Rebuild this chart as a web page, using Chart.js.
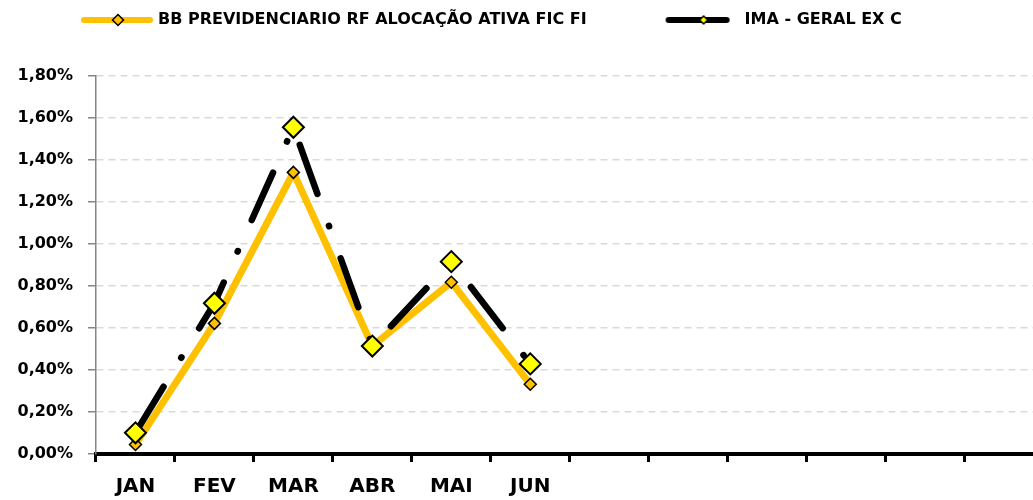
<!DOCTYPE html>
<html>
<head>
<meta charset="utf-8">
<script src="https://cdn.jsdelivr.net/npm/chart.js@4/dist/chart.umd.min.js"></script>
<style>
html, body { margin: 0; padding: 0; background: #fff; overflow: hidden; }
#quadro { width: 1033px; height: 500px; overflow: hidden; }
</style>
</head>
<body>
<div id="quadro"><canvas id="grafico" width="1056" height="500"></canvas></div>
<script>
// dados do grafico (rentabilidade mensal, em %)
const meses = ['JAN', 'FEV', 'MAR', 'ABR', 'MAI', 'JUN', '', '', '', '', '', ''];
const bbPrevidenciario = [0.045, 0.622, 1.341, 0.514, 0.818, 0.332];
const imaGeralExC = [0.101, 0.718, 1.556, 0.514, 0.916, 0.429];
const nomeBB = 'BB PREVIDENCIARIO RF ALOCAÇÃO ATIVA FIC FI';
const nomeIMA = 'IMA - GERAL EX C';
const eixoYMax = 1.8;
const eixoYPasso = 0.2;

const fonte = 'DejaVu Sans';

// icone da legenda: linha grossa com losango no meio
function iconeLegenda(cor, x0, x1, xd, raio, corLosango) {
    const c = document.createElement('canvas');
    c.width = 200;
    c.height = 16;
    const g = c.getContext('2d');
    g.strokeStyle = cor;
    g.lineWidth = 6;
    g.lineCap = 'round';
    g.beginPath();
    g.moveTo(x0 + 3, 8);
    g.lineTo(x1 - 3, 8);
    g.stroke();
    g.beginPath();
    g.moveTo(xd, 8 - raio);
    g.lineTo(xd + raio, 8);
    g.lineTo(xd, 8 + raio);
    g.lineTo(xd - raio, 8);
    g.closePath();
    g.fillStyle = corLosango;
    g.fill();
    g.lineWidth = 1.5;
    g.strokeStyle = '#000';
    g.stroke();
    return c;
}

const iconeBB = iconeLegenda('#FFC000', 100, 172, 137, 5.5, '#FFC000');
const iconeIMA = iconeLegenda('#000', 98, 162, 136, 4, '#FFFF00');

function formataPct(v) {
    return v.toFixed(2).replace('.', ',') + '%';
}

const ctx = document.getElementById('grafico');

new Chart(ctx, {
    type: 'line',
    data: {
        labels: meses,
        datasets: [{
            label: nomeIMA,
            data: imaGeralExC,
            borderColor: '#000',
            borderWidth: 6.5,
            borderDash: [52, 34, 0.5, 34],
            borderDashOffset: 118.6,
            borderCapStyle: 'round',
            borderJoinStyle: 'round',
            tension: 0,
            fill: false,
            pointStyle: 'rectRot',
            pointRadius: 10.5,
            pointBackgroundColor: '#FFFF00',
            pointBorderColor: '#000',
            pointBorderWidth: 2
        }, {
            label: nomeBB,
            data: bbPrevidenciario,
            borderColor: '#FFC000',
            borderWidth: 7,
            borderCapStyle: 'round',
            borderJoinStyle: 'round',
            tension: 0,
            fill: false,
            pointStyle: 'rectRot',
            pointRadius: 6,
            pointBackgroundColor: '#FFC000',
            pointBorderColor: '#000',
            pointBorderWidth: 1.5
        }]
    },
    options: {
        responsive: false,
        animation: false,
        layout: { padding: 0 },
        plugins: {
            tooltip: { enabled: false },
            // titulo vazio so para abrir espaco entre a legenda e o grafico
            title: {
                display: true,
                text: '',
                weight: 0,
                font: { size: 10 },
                padding: { top: 13, bottom: 13 }
            },
            legend: {
                position: 'top',
                align: 'start',
                labels: {
                    usePointStyle: true,
                    pointStyleWidth: 138,
                    padding: 12,
                    color: '#000',
                    font: { family: fonte, size: 16, weight: 'bold' },
                    generateLabels: function (chart) {
                        return [
                            { text: nomeBB, pointStyle: iconeBB, datasetIndex: 1, hidden: !chart.isDatasetVisible(1), lineWidth: 0 },
                            { text: nomeIMA, pointStyle: iconeIMA, datasetIndex: 0, hidden: !chart.isDatasetVisible(0), lineWidth: 0 }
                        ];
                    }
                }
            }
        },
        scales: {
            x: {
                offset: true,
                grid: {
                    offset: true,
                    drawOnChartArea: false,
                    tickLength: 8,
                    tickColor: '#000',
                    tickWidth: 3
                },
                border: { color: '#000', width: 4 },
                ticks: {
                    autoSkip: false,
                    maxRotation: 0,
                    padding: 13,
                    color: '#000',
                    font: { family: fonte, size: 20, weight: 'bold' }
                },
                afterFit: function (s) {
                    s.height = 46;
                    s.paddingLeft = 0;
                    s.paddingRight = 0;
                }
            },
            y: {
                min: 0,
                max: eixoYMax,
                grid: {
                    color: '#d9d9d9',
                    lineWidth: 1.5,
                    tickLength: 8,
                    tickColor: '#868686',
                    tickWidth: 1.5
                },
                border: { color: '#868686', width: 1.5, dash: [7, 5] },
                ticks: {
                    stepSize: eixoYPasso,
                    padding: 15,
                    color: '#000',
                    font: { family: fonte, size: 16, weight: 'bold' },
                    callback: function (v) { return formataPct(v); }
                },
                afterFit: function (s) {
                    s.width = 96;
                }
            }
        }
    }
});
</script>
</body>
</html>
